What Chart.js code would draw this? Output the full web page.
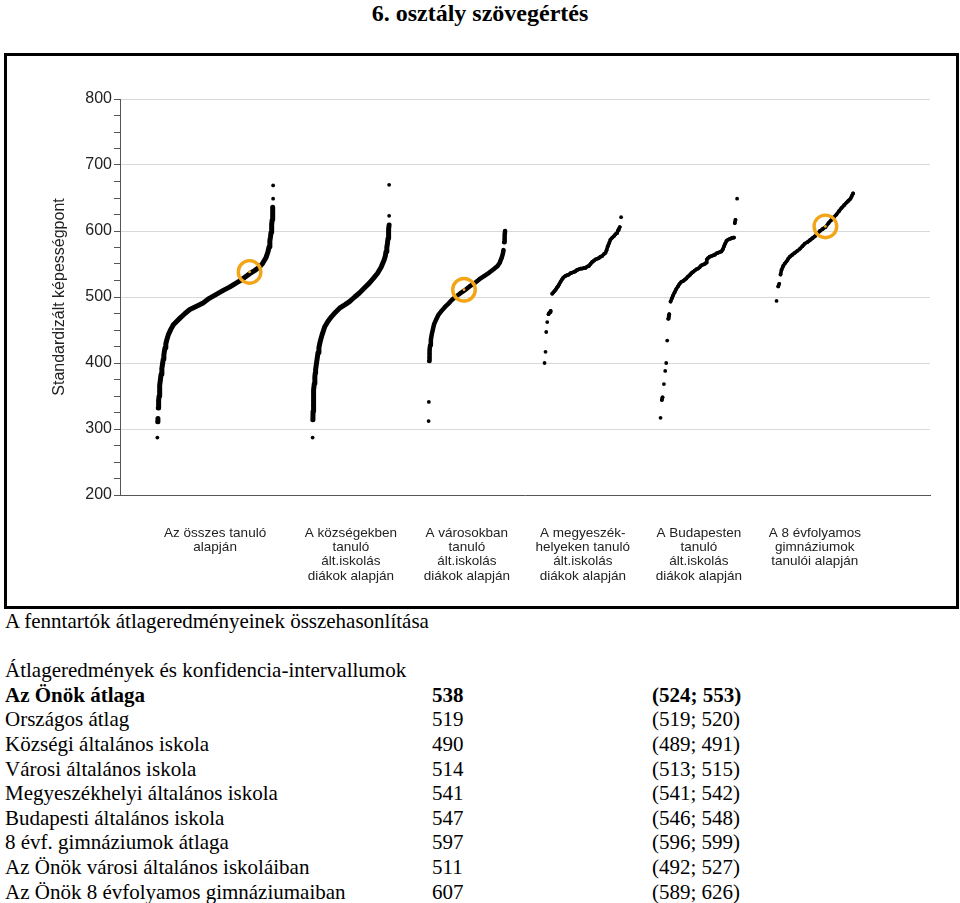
<!DOCTYPE html>
<html>
<head>
<meta charset="utf-8">
<script src="https://cdn.jsdelivr.net/npm/chart.js@4.4.1/dist/chart.umd.min.js"></script>
<style>
html,body{margin:0;padding:0;background:#fff;}
body{width:960px;height:903px;position:relative;overflow:hidden;font-family:"Liberation Serif","Times New Roman",serif;color:#000;}
#title{position:absolute;left:0;top:0;width:960px;text-align:center;font-weight:bold;font-size:24px;line-height:26px;}
#box{position:absolute;left:4px;top:53px;width:949px;height:550px;border:3px solid #000;}
#box canvas{display:block;}
#notes{position:absolute;left:5px;top:609px;font-size:21px;line-height:24.6px;white-space:nowrap;}
.row{position:relative;height:24.6px;}
.c2{position:absolute;left:427px;top:0;}
.c3{position:absolute;left:647px;top:0;}
.b{font-weight:bold;}
</style>
</head>
<body>
<div id="title">6. osztály szövegértés</div>
<div id="box"><canvas id="c" width="949" height="550"></canvas></div>
<div id="notes"></div>
<script>
// ---------- DATA ----------
const categoryLabels = [
  ['Az összes tanuló', 'alapján'],
  ['A községekben', 'tanuló', 'ált.iskolás', 'diákok alapján'],
  ['A városokban', 'tanuló', 'ált.iskolás', 'diákok alapján'],
  ['A megyeszék-', 'helyeken tanuló', 'ált.iskolás', 'diákok alapján'],
  ['A Budapesten', 'tanuló', 'ált.iskolás', 'diákok alapján'],
  ['A 8 évfolyamos', 'gimnáziumok', 'tanulói alapján']
];
const yTickLabels = ['200', '300', '400', '500', '600', '700', '800'];
const yAxisTitle = 'Standardizált képességpont';

// percentile rank of the student inside its group, and its score
const g1Rank  = [0.2, 0.5, 0.7, 1.0, 1.2, 1.4, 1.7, 2.0, 2.4, 2.8, 3.4, 4.1, 4.8, 5.3, 5.8, 6.3, 6.8, 7.5, 8.2, 9.7, 11.8, 14.0, 16.8, 19.7, 24, 28.2, 34, 39.6, 45, 51, 57, 62.4, 67, 70.9, 75, 79.5, 84, 88, 91, 93.7, 95.5, 96.5, 97.2, 97.8, 98.2, 98.6, 98.9, 99.2, 99.4, 99.7, 99.8, 100, 100];
const g1Score = [287, 311, 316, 332, 337, 343, 350, 357, 366, 374, 383, 392, 400, 406, 412, 418, 423, 429, 434, 443, 451, 458, 463, 468, 475, 481, 486, 491, 498, 504, 510, 515, 520, 524, 529, 535, 540, 545, 551, 559, 568, 576, 585, 592, 598, 604, 610, 617, 623, 629, 636, 649, 669];

const g2Rank  = [0.1, 0.3, 0.5, 0.7, 0.9, 1.2, 1.5, 1.8, 2.3, 3.0, 3.5, 4.0, 5.2, 6.2, 7.2, 8.3, 9.5, 11, 12.5, 14.2, 15.9, 20, 24.6, 30, 35.3, 42, 48.3, 55, 61.2, 68, 74.1, 80, 84.9, 89.5, 93.5, 95, 96, 97, 97.8, 98.6, 99.1, 99.6, 100, 100, 100];
const g2Score = [287, 314, 319, 327, 335, 343, 351, 359, 369, 379, 385, 390, 400, 408, 416, 423, 430, 437, 443, 449, 455, 463, 470, 477, 483, 488, 493, 500, 506, 514, 521, 529, 536, 545, 556, 562, 569, 575, 581, 589, 596, 603, 609, 623, 670];

const g3Rank  = [0.1, 0.4, 0.8, 1.0, 1.3, 1.7, 2.1, 3.0, 4.3, 5.7, 7.3, 10, 12.9, 17, 21.5, 26, 30, 35, 40.8, 47, 53.6, 60, 66.5, 73, 79.4, 85, 90.1, 93, 95.7, 97.2, 97.9, 98.7, 99.2, 99.6, 100];
const g3Score = [312, 341, 403, 408, 414, 420, 427, 435, 444, 451, 459, 466, 473, 479, 485, 490, 495, 500, 505, 510, 516, 521, 527, 532, 537, 542, 547, 552, 560, 566, 571, 583, 588, 594, 600];

const g4Rank  = [0, 1.3, 2.2, 3.5, 5.2, 6.2, 7.2, 8.0, 10.0, 11.5, 13, 14.5, 16, 17.4, 19, 20.9, 22.5, 24.3, 26, 27.4, 29.5, 31.7, 34, 36.1, 38.5, 40.4, 42.5, 44.8, 47, 49.1, 51.5, 53.5, 55.5, 57.8, 60, 62.2, 64.5, 66.5, 69, 70.9, 73, 75.2, 77.5, 79.6, 81, 82.6, 84.5, 86.1, 88.5, 90.4, 92.5, 94.8, 96, 97, 98.3, 100];
const g4Score = [400, 417, 447, 462, 474, 476, 477, 479, 505, 507, 509, 511, 514, 516, 519, 523, 526, 529, 531, 532, 533, 534, 536, 537, 538, 539, 541, 542, 543, 543, 544, 544, 546, 547, 550, 553, 555, 557, 558, 559, 561, 562, 565, 567, 571, 577, 582, 587, 590, 592, 595, 597, 601, 603, 606, 621];

const g5Rank  = [0, 1.7, 2.6, 4.4, 6.1, 7.4, 8.7, 10.0, 10.8, 11.4, 13.1, 14.8, 16.2, 18.3, 20.5, 22.7, 24.9, 27.1, 29.3, 31.4, 33.6, 35.8, 38, 40.2, 42.4, 44.6, 46.8, 48.9, 51, 53.3, 55.5, 57.7, 59.5, 60.5, 62.0, 64.2, 66.4, 68.6, 70.8, 73, 75.1, 77.3, 79.5, 81.2, 83.0, 84.5, 86.1, 88.3, 90.4, 92.6, 94.8, 96, 97.0, 97.9, 100];
const g5Score = [317, 344, 348, 368, 388, 400, 434, 467, 471, 474, 493, 498, 502, 507, 512, 516, 520, 523, 524, 526, 528, 531, 533, 536, 538, 540, 542, 543, 545, 548, 549, 550, 552, 557, 559, 561, 562, 563, 564, 566, 567, 568, 569, 572, 577, 581, 585, 587, 588, 589, 590, 590, 612, 617, 649];

const g6Rank  = [0, 2.2, 3.5, 5.2, 6.5, 8.7, 11, 13.1, 15.3, 17.4, 20.6, 23.9, 27.2, 30.5, 33.8, 37.0, 40.2, 43.5, 46.8, 50.1, 53.3, 56.6, 60.3, 64.0, 67.9, 71.8, 75, 78.3, 81.6, 84.9, 88.2, 91.4, 94, 96.6, 98.3, 100];
const g6Score = [494, 516, 520, 534, 541, 547, 551, 554, 558, 561, 564, 567, 570, 573, 577, 581, 583, 586, 589, 592, 596, 600, 603, 606, 612, 617, 621, 625, 630, 635, 639, 643, 646, 649, 653, 657];

// "Az Önök" averages marked with circles
const schoolMeanGroup = [0, 2, 5];
const schoolMeanRank  = [79.7, 46.3, 63.8];
const schoolMean      = [538, 511, 607];

// table below the chart
const tableTitle = 'A fenntartók átlageredményeinek összehasonlítása';
const tableHeader = 'Átlageredmények és konfidencia-intervallumok';
const tableLabels = ['Az Önök átlaga', 'Országos átlag', 'Községi általános iskola', 'Városi általános iskola',
  'Megyeszékhelyi általános iskola', 'Budapesti általános iskola', '8 évf. gimnáziumok átlaga',
  'Az Önök városi általános iskoláiban', 'Az Önök 8 évfolyamos gimnáziumaiban'];
const tableMeans = [538, 519, 490, 514, 541, 547, 597, 511, 607];
const ciLow  = [524, 519, 489, 513, 541, 546, 596, 492, 589];
const ciHigh = [553, 520, 491, 515, 542, 548, 599, 527, 626];

// ---------- LAYOUT (not data) ----------
const GROUP_START = [0.32, 1.66, 2.66, 3.66, 4.66, 5.66];
const GROUP_WIDTH = [1.0, 0.66, 0.66, 0.66, 0.66, 0.66];
const LINE_W = [5, 5, 4.5, 3.6, 3.6, 3.6];
const X_MAX = 6.983;
const ORANGE = '#f2a516';
const SANS = '"Liberation Sans", Arial, sans-serif';

// ---------- TABLE ----------
(function () {
  const n = document.getElementById('notes');
  let html = '<div class="row">' + tableTitle + '</div><div class="row"></div>';
  html += '<div class="row">' + tableHeader + '</div>';
  tableLabels.forEach((l, i) => {
    html += '<div class="row' + (i === 0 ? ' b' : '') + '"><span>' + l + '</span><span class="c2">' +
      tableMeans[i] + '</span><span class="c3">(' + ciLow[i] + '; ' + ciHigh[i] + ')</span></div>';
  });
  n.innerHTML = html;
})();

// ---------- CHART ----------
const groups = [[g1Rank, g1Score], [g2Rank, g2Score], [g3Rank, g3Score], [g4Rank, g4Score], [g5Rank, g5Score], [g6Rank, g6Score]];
const toX = (g, r) => GROUP_START[g] + GROUP_WIDTH[g] * r / 100;
const centers = GROUP_START.map((s, i) => s + GROUP_WIDTH[i] / 2);

const datasets = groups.map(([rk, sc], g) => ({
  data: rk.map((r, i) => ({ x: toX(g, r), y: sc[i] })),
  showLine: true,
  borderColor: '#000',
  backgroundColor: '#000',
  borderWidth: LINE_W[g],
  borderCapStyle: 'round',
  borderJoinStyle: 'round',
  pointRadius: 1.9,
  pointBorderWidth: 0,
  pointHoverRadius: 1.9,
  segment: {
    // break the chain only where the scores jump (isolated students)
    borderColor: ctx => Math.abs(ctx.p1.y - ctx.p0.y) > 7.5 ? 'rgba(0,0,0,0)' : '#000'
  },
  order: 2
}));

const circlePts = schoolMean.map((v, i) => ({ x: toX(schoolMeanGroup[i], schoolMeanRank[i]), y: v }));
datasets.push({
  data: circlePts, showLine: false, pointRadius: 11.3, pointBorderWidth: 3.4,
  pointBorderColor: ORANGE, pointBackgroundColor: 'rgba(0,0,0,0)', order: 0
});
datasets.push({
  data: circlePts, showLine: false, pointRadius: 1.4, pointBorderWidth: 0,
  pointBackgroundColor: ORANGE, order: 0
});

new Chart(document.getElementById('c'), {
  type: 'scatter',
  data: { datasets },
  options: {
    responsive: false,
    animation: false,
    events: [],
    layout: { padding: { left: 40, right: 26, top: 43, bottom: 0 } },
    plugins: { legend: { display: false }, tooltip: { enabled: false } },
    scales: {
      x: {
        type: 'linear', min: 0, max: X_MAX,
        afterBuildTicks: ax => { ax.ticks = centers.map(v => ({ value: v })); },
        afterFit: ax => { ax.height = 111; },
        ticks: {
          autoSkip: false, maxRotation: 0, minRotation: 0,
          callback: (v, i) => categoryLabels[i],
          font: { family: SANS, size: 13.5, lineHeight: 1.06 },
          color: '#222', padding: 31
        },
        grid: { display: false, drawTicks: false },
        border: { display: true, color: '#555', width: 1 }
      },
      y: {
        type: 'linear', min: 200, max: 800,
        afterFit: ax => { ax.width = 73; },
        ticks: {
          stepSize: 25, autoSkip: false,
          callback: v => (v % 100 === 0 ? yTickLabels[(v - 200) / 100] : ''),
          font: { family: SANS, size: 16 }, color: '#222', padding: 2
        },
        grid: {
          color: c => (c.tick && c.tick.value % 100 === 0 && c.tick.value > 200) ? '#d9d9d9' : 'rgba(0,0,0,0)',
          tickColor: '#555', tickLength: 6, lineWidth: 1, drawTicks: true
        },
        border: { display: true, color: '#555', width: 1 },
        title: {
          display: true, text: yAxisTitle, color: '#222',
          font: { family: SANS, size: 16 }, padding: { top: 3, bottom: 0 }
        }
      }
    }
  }
});
</script>
</body>
</html>
